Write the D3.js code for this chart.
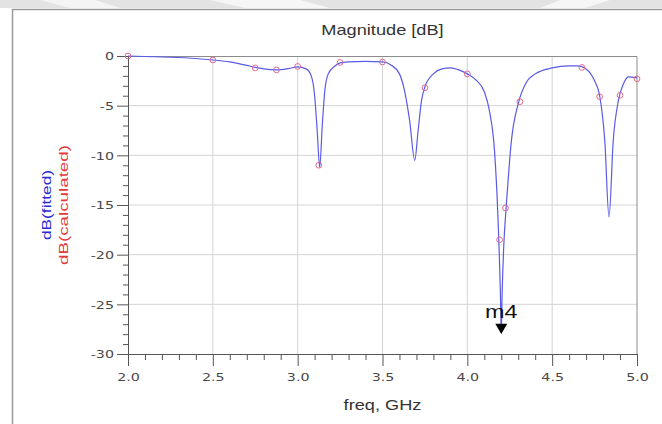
<!DOCTYPE html>
<html>
<head>
<meta charset="utf-8">
<script src="https://cdn.jsdelivr.net/npm/d3@7"></script>
<style>
  body { margin: 0; background: #fff; }
  svg { display: block; }
</style>
</head>
<body>
<div id="chart"></div>
<script>
// fitted curve (blue)
var fitFreq = [2.0, 2.2, 2.4, 2.5, 2.6, 2.7, 2.75, 2.8, 2.875, 2.95, 3.0, 3.05, 3.08, 3.1, 3.115, 3.13,
  3.145, 3.16, 3.18, 3.22, 3.25, 3.3, 3.4, 3.5, 3.55, 3.6, 3.63, 3.66, 3.69, 3.71, 3.73, 3.75,
  3.8, 3.85, 3.9, 3.95, 4.0, 4.05, 4.1, 4.13, 4.16, 4.18, 4.195, 4.2, 4.205, 4.215, 4.23, 4.26,
  4.3, 4.35, 4.4, 4.5, 4.6, 4.65, 4.7, 4.75, 4.78, 4.81, 4.835, 4.86, 4.89, 4.92, 4.95, 5.0];
var fitDb = [0, -0.1, -0.25, -0.4, -0.6, -0.95, -1.15, -1.3, -1.4, -1.25, -1.1, -1.3, -2.0, -4.0, -7.5, -11.2,
  -7.0, -3.5, -1.8, -1.0, -0.7, -0.6, -0.55, -0.6, -0.9, -1.8, -3.5, -6.5, -10.5, -7.5, -4.5, -3.1,
  -1.8, -1.3, -1.2, -1.4, -1.8, -2.4, -3.6, -5.5, -9.5, -16, -24, -27.9, -24, -19, -15, -8.5,
  -4.8, -2.6, -1.8, -1.2, -1.0, -1.0, -1.3, -2.5, -4.0, -8.5, -16.2, -8.5, -4.5, -2.8, -2.1, -2.2];

// calculated points (red markers)
var calcFreq = [2.0, 2.5, 2.75, 2.875, 3.0, 3.125, 3.25, 3.5, 3.75, 4.0, 4.19, 4.225, 4.31, 4.675, 4.78, 4.9, 5.0];
var calcDb = [0, -0.4, -1.2, -1.4, -1.05, -11, -0.65, -0.6, -3.2, -1.8, -18.5, -15.3, -4.6, -1.15, -4.1, -3.95, -2.3];

var xMajor = [2.0, 2.5, 3.0, 3.5, 4.0, 4.5, 5.0];
var yMajor = [0, -5, -10, -15, -20, -25, -30];

var markerName = "m4";
var markerFreq = 4.2;
var markerDb = -27.9;

var W = 662, H = 424;
var margin = {top: 56, right: 25, bottom: 70, left: 128},
  width = W - margin.left - margin.right,
  height = H - margin.top - margin.bottom;
var sx = 1.3; // picture is stretched sideways

var svg = d3.select("#chart").append("svg")
  .attr("width", W).attr("height", H);

// grey band along the top edge
svg.append("rect").attr("x", 0).attr("y", 0).attr("width", W).attr("height", 8).style("fill", "#e3e3e3");
svg.append("path").attr("d", "M40,0 L95,0 L120,8 L70,8 Z").style("fill", "#f4f4f4");
svg.append("path").attr("d", "M210,0 L300,0 L330,8 L245,8 Z").style("fill", "#f6f6f6");
svg.append("path").attr("d", "M560,0 L610,0 L585,8 L540,8 Z").style("fill", "#f6f6f6");

// outer frame
svg.append("line").attr("x1", 12).attr("x2", W).attr("y1", 9.5).attr("y2", 9.5)
  .style("stroke", "#9a9a9a").style("stroke-width", 1.5);
svg.append("line").attr("x1", 12.5).attr("x2", 12.5).attr("y1", 9).attr("y2", H)
  .style("stroke", "#9a9a9a").style("stroke-width", 1.5);

var g = svg.append("g")
  .attr("transform", "translate(" + margin.left + "," + margin.top + ")");

var x = d3.scaleLinear().domain([2, 5]).range([0, width]);
var y = d3.scaleLinear().domain([-30, 0]).range([height, 0]);

// grid
g.selectAll(".gx").data(xMajor.slice(1, -1)).enter().append("line")
  .attr("x1", function(d) { return x(d); }).attr("x2", function(d) { return x(d); })
  .attr("y1", 0).attr("y2", height)
  .style("stroke", "#d4d4d4");
g.selectAll(".gy").data(yMajor.slice(1, -1)).enter().append("line")
  .attr("x1", 0).attr("x2", width)
  .attr("y1", function(d) { return y(d); }).attr("y2", function(d) { return y(d); })
  .style("stroke", "#d4d4d4");

// frame top and right
g.append("path").attr("d", "M0,0.5 H" + width + " V" + height)
  .style("fill", "none").style("stroke", "#8c8c8c");

// minor ticks
var xMinor = d3.range(21, 50).map(function(i) { return i / 10; })
  .filter(function(d) { return Math.round(d * 10) % 5 != 0; });
var yMinor = d3.range(-29, 0).filter(function(d) { return d % 5 != 0; });

g.append("g").attr("transform", "translate(0," + height + ")")
  .call(d3.axisBottom(x).tickValues(xMinor).tickSize(6).tickFormat(""))
  .call(function(s) { s.select(".domain").remove(); });
g.append("g")
  .call(d3.axisLeft(y).tickValues(yMinor).tickSize(5).tickFormat(""))
  .call(function(s) { s.select(".domain").remove(); });

// major ticks + labels
var xAxis = g.append("g").attr("transform", "translate(0," + height + ")")
  .call(d3.axisBottom(x).tickValues(xMajor).tickSize(12).tickSizeOuter(0).tickFormat(d3.format(".1f")));
xAxis.selectAll("text")
  .attr("y", 27).attr("dy", 0)
  .attr("transform", "scale(" + sx + ",1)");

var yAxis = g.append("g")
  .call(d3.axisLeft(y).tickValues(yMajor).tickSize(11).tickSizeOuter(0)
    .tickFormat(function(d) { return String(d); }));
yAxis.selectAll("text")
  .attr("x", -14 / sx).attr("dy", "0.36em")
  .attr("transform", "scale(" + sx + ",1)");

svg.selectAll(".tick text")
  .style("font-family", "'DejaVu Sans', sans-serif").style("font-size", "11px").style("fill", "#4a4a4a");
svg.selectAll(".tick line").style("stroke", "#555");
svg.selectAll(".domain").style("stroke", "#555");

// fitted line
var fitData = fitFreq.map(function(f, i) { return {f: f, v: fitDb[i]}; });
var line = d3.line()
  .x(function(d) { return x(d.f); })
  .y(function(d) { return y(d.v); })
  .curve(d3.curveMonotoneX);
g.append("path").datum(fitData)
  .attr("d", line)
  .style("fill", "none").style("stroke", "#5a5ae6").style("stroke-width", 1.2);

// calculated markers
var calcData = calcFreq.map(function(f, i) { return {f: f, v: calcDb[i]}; });
g.selectAll(".calc").data(calcData).enter().append("path")
  .attr("transform", function(d) { return "translate(" + x(d.f) + "," + y(d.v) + ")"; })
  .attr("d", d3.symbol().type(d3.symbolCircle).size(26))
  .style("fill", "none").style("stroke", "#e06a8e").style("stroke-width", 1);

// marker m4
g.append("path")
  .attr("transform", "translate(" + x(markerFreq) + "," + (y(markerDb) - 6) + ") rotate(180)")
  .attr("d", d3.symbol().type(d3.symbolTriangle).size(62))
  .style("fill", "#000");
g.append("text")
  .attr("transform", "translate(" + x(markerFreq) + "," + (y(markerDb) - 15) + ") scale(" + sx + ",1)")
  .style("text-anchor", "middle")
  .style("font-family", "'Liberation Sans', Arial, sans-serif").style("font-size", "18px")
  .style("fill", "#111")
  .text(markerName);

// title and axis titles
svg.append("text")
  .attr("transform", "translate(" + (margin.left + width / 2) + ",35) scale(" + sx + ",1)")
  .style("text-anchor", "middle")
  .style("font-family", "'Liberation Sans', Arial, sans-serif").style("font-size", "14px")
  .style("fill", "#333")
  .text("Magnitude [dB]");

svg.append("text")
  .attr("transform", "translate(" + (margin.left + width / 2) + ",410) scale(" + sx + ",1)")
  .style("text-anchor", "middle")
  .style("font-family", "'Liberation Sans', Arial, sans-serif").style("font-size", "14px")
  .style("fill", "#333")
  .text("freq, GHz");

var yMid = margin.top + height / 2;
svg.append("text")
  .attr("transform", "translate(51," + yMid + ") rotate(-90)")
  .style("text-anchor", "middle")
  .style("font-family", "'Liberation Sans', Arial, sans-serif").style("font-size", "12px")
  .style("fill", "#2a2ad0")
  .attr("textLength", 70).attr("lengthAdjust", "spacingAndGlyphs")
  .text("dB(fitted)");
svg.append("text")
  .attr("transform", "translate(68," + yMid + ") rotate(-90)")
  .style("text-anchor", "middle")
  .style("font-family", "'Liberation Sans', Arial, sans-serif").style("font-size", "12px")
  .style("fill", "#e03a3a")
  .attr("textLength", 120).attr("lengthAdjust", "spacingAndGlyphs")
  .text("dB(calculated)");
</script>
</body>
</html>
